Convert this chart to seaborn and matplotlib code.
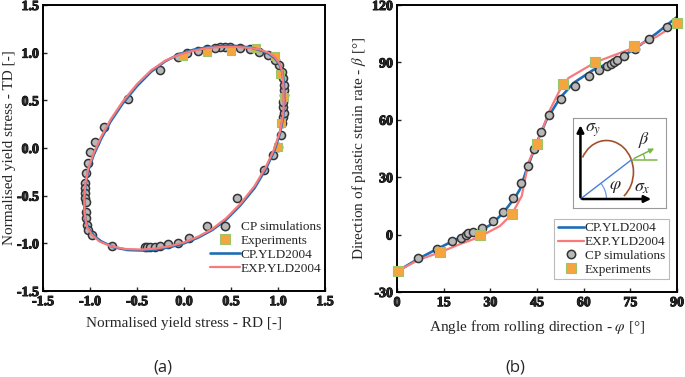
import numpy as np
import pandas as pd
import seaborn as sns
import matplotlib.pyplot as plt
import matplotlib.patheffects as pe
from matplotlib.patches import Arc
from matplotlib.lines import Line2D

# ---- panel (a): yield locus, normalised stresses ----
cp_sim_rd = [-0.255, -0.592, -0.851, -0.947, -1.0, -1.018, -1.043, -1.053, -1.055, -1.053,
             -1.050, -1.045, -1.043, -1.043, -1.029, -1.018, -0.982, -0.763, -0.415, -0.390,
             -0.362, -0.310, -0.255, -0.167, -0.061, 0.056, 0.241, 0.567, 0.851, 0.950,
             0.995, 1.029, 1.039, 1.056, 1.064, 1.056, 1.056, 1.064, 1.064, 1.064,
             1.056, 1.039, 1.014, 0.968, 0.897, 0.800, 0.702, 0.596, 0.489, 0.436,
             0.383, 0.330, 0.241, 0.152, 0.029, -0.060]
cp_sim_td = [0.818, 0.511, 0.224, 0.066, -0.045, -0.154, -0.266, -0.364, -0.42, -0.47,
             -0.52, -0.57, -0.668, -0.738, -0.808, -0.86, -0.913, -1.028, -1.039, -1.042,
             -1.039, -1.035, -1.028, -1.007, -0.993, -0.941, -0.818, -0.528, -0.231, -0.073,
             0.010, 0.136, 0.259, 0.322, 0.364, 0.427, 0.486, 0.556, 0.608, 0.660,
             0.730, 0.800, 0.871, 0.923, 0.975, 1.010, 1.035, 1.046, 1.060, 1.060,
             1.056, 1.049, 1.038, 1.021, 0.993, 0.951]

exp_rd = [-0.01, 0.24, 0.50, 0.77, 0.97, 1.02, 1.06, 1.03, 1.00]
exp_td = [0.97, 1.01, 1.02, 1.05, 0.97, 0.78, 0.54, 0.26, 0.01]

cp_yld_rd = [1.065, 1.065, 1.06, 1.045, 1.02, 0.97, 0.90, 0.80, 0.70, 0.55, 0.40, 0.25, 0.10,
             -0.05, -0.20, -0.35, -0.50, -0.65, -0.78, -0.88, -0.96, -1.02, -1.05, -1.06,
             -1.06, -1.05, -1.02, -0.96, -0.88, -0.75, -0.60, -0.45, -0.30, -0.15, 0.0,
             0.15, 0.30, 0.45, 0.60, 0.75, 0.87, 0.96, 1.02, 1.05, 1.065, 1.065]
cp_yld_td = [0.50, 0.60, 0.70, 0.80, 0.87, 0.94, 0.99, 1.03, 1.055, 1.07, 1.07, 1.055, 1.03,
             0.985, 0.91, 0.80, 0.65, 0.47, 0.28, 0.10, -0.07, -0.24, -0.40, -0.55,
             -0.65, -0.75, -0.84, -0.92, -0.98, -1.04, -1.07, -1.075, -1.065, -1.04, -1.0,
             -0.94, -0.86, -0.75, -0.60, -0.42, -0.22, -0.03, 0.15, 0.30, 0.42, 0.50]

exp_yld_rd = [1.06, 1.06, 1.055, 1.045, 1.02, 0.97, 0.90, 0.80, 0.70, 0.55, 0.40, 0.25, 0.10,
              -0.05, -0.20, -0.35, -0.50, -0.65, -0.78, -0.88, -0.96, -1.02, -1.05, -1.06,
              -1.06, -1.05, -1.03, -0.98, -0.90, -0.78, -0.62, -0.45, -0.30, -0.15, 0.0,
              0.15, 0.30, 0.45, 0.60, 0.75, 0.87, 0.96, 1.02, 1.05, 1.06, 1.06]
exp_yld_td = [0.50, 0.60, 0.70, 0.80, 0.88, 0.95, 1.0, 1.035, 1.05, 1.06, 1.06, 1.05, 1.02,
              0.98, 0.915, 0.815, 0.67, 0.49, 0.30, 0.12, -0.05, -0.22, -0.38, -0.52,
              -0.64, -0.74, -0.83, -0.91, -0.98, -1.03, -1.06, -1.065, -1.055, -1.03, -0.99,
              -0.93, -0.85, -0.735, -0.585, -0.40, -0.20, -0.01, 0.17, 0.32, 0.42, 0.50]

# ---- panel (b): direction of plastic strain rate ----
cp_sim_phi = [0.4, 6.9, 12.8, 17.6, 20.5, 22.2, 22.9, 24.5, 27.2, 30.8, 34.2, 37.2, 39.9,
              42.0, 44.0, 46.2, 49.0, 52.6, 57.2, 61.6, 65.0, 67.4, 68.8, 69.6, 70.8,
              73.1, 76.4, 81.0, 86.8]
cp_sim_beta = [-19.2, -12.3, -7.6, -3.6, -1.9, -0.3, 0.6, 1.6, 3.5, 7.1, 12.0, 19.0, 27.0,
               36.1, 44.8, 53.7, 62.6, 70.9, 77.5, 82.7, 86.1, 88.2, 89.4, 90.2, 91.2,
               93.4, 97.1, 102.1, 108.7]

exp_phi = [0.3, 13.8, 26.7, 36.9, 44.9, 53.4, 63.8, 76.1, 90.0]
exp_beta = [-19.0, -9.0, -0.3, 10.6, 47.6, 78.9, 90.1, 98.6, 110.5]

cp_line_phi = [0.4, 6.9, 12.8, 20.2, 26.7, 30.5, 34.2, 37.9, 39.5, 41.7, 44.9, 48.1,
               52.4, 56.7, 63.1, 70.6, 76.0, 83.5, 89.9]
cp_line_beta = [-18.9, -12.6, -7.6, -1.5, 2.0, 5.5, 11.5, 19.3, 23.6, 34.1, 48.0, 60.1,
                71.4, 79.2, 86.1, 91.4, 96.6, 105.3, 113.6]

exp_line_phi = [0.4, 6.9, 13.8, 20.2, 26.1, 33.1, 36.9, 40.1, 42.2, 44.9, 49.2, 52.4,
                55.1, 63.8, 74.9, 83.5, 90.4]
exp_line_beta = [-18.9, -13.2, -9.3, -5.0, -1.5, 4.5, 10.6, 20.2, 37.5, 47.6, 65.3, 75.7,
                 81.8, 90.1, 96.9, 103.5, 110.8]

ticks_a = [-1.5, -1.0, -0.5, 0.0, 0.5, 1.0, 1.5]
ticks_a_lab = ['-1.5', '-1.0', '-0.5', '0.0', '0.5', '1.0', '1.5']
ticks_phi = [0, 15, 30, 45, 60, 75, 90]
ticks_beta = [-30, 0, 30, 60, 90, 120]

BLUE = '#1f6db5'
RED = '#f77b7b'
GREY_FACE = '#b8b8b8'
GREY_EDGE = '#333333'
ORANGE = '#f6a53e'
GREEN_EDGE = '#9cc46a'

sns.set_style('ticks')
plt.rcParams['font.family'] = ['Liberation Serif', 'DejaVu Serif']
plt.rcParams['mathtext.fontset'] = 'stix'
plt.rcParams['xtick.direction'] = 'in'
plt.rcParams['ytick.direction'] = 'in'
plt.rcParams['axes.linewidth'] = 1.4
plt.rcParams['axes.edgecolor'] = 'black'

fig = plt.figure(figsize=(6.85, 3.77), dpi=100)
ax1 = fig.add_axes([43 / 685, 1 - 291 / 377, 282 / 685, 286 / 377])
ax2 = fig.add_axes([397 / 685, 1 - 292 / 377, 280 / 685, 287 / 377])

# panel (a)
sns.scatterplot(x=cp_sim_rd, y=cp_sim_td, ax=ax1, marker='o', s=34, color=GREY_FACE,
                edgecolor=GREY_EDGE, linewidth=1.1, zorder=2)
sns.scatterplot(x=exp_rd, y=exp_td, ax=ax1, marker='s', s=40, color=ORANGE,
                edgecolor=GREEN_EDGE, linewidth=0.8, zorder=2)
df_cp = pd.DataFrame({'rd': cp_yld_rd, 'td': cp_yld_td})
df_exp = pd.DataFrame({'rd': exp_yld_rd, 'td': exp_yld_td})
sns.lineplot(data=df_cp, x='rd', y='td', sort=False, estimator=None, ax=ax1,
             color=BLUE, linewidth=1.9, zorder=3)
sns.lineplot(data=df_exp, x='rd', y='td', sort=False, estimator=None, ax=ax1,
             color=RED, linewidth=1.6, zorder=4)
ax1.set_xlim(-1.5, 1.5)
ax1.set_ylim(-1.5, 1.5)
ax1.set_xticks(ticks_a, labels=ticks_a_lab, fontweight='bold', fontsize=10)
ax1.set_yticks(ticks_a, labels=ticks_a_lab, fontweight='bold', fontsize=10)
ax1.set_xlabel('Normalised yield stress - RD [-]', fontsize=11, labelpad=6)
ax1.set_ylabel('Normalised yield stress - TD [-]', fontsize=11, labelpad=1)

h_circ = Line2D([], [], marker='o', ls='', ms=6, mfc=GREY_FACE, mec=GREY_EDGE, mew=1.1)
h_sq = Line2D([], [], marker='s', ls='', ms=6.5, mfc=ORANGE, mec=GREEN_EDGE, mew=0.8)
h_blue = Line2D([], [], color=BLUE, lw=1.9)
h_red = Line2D([], [], color=RED, lw=1.6)

ax1.legend([h_circ, h_sq, h_blue, h_red],
           ['CP simulations', 'Experiments', 'CP.YLD2004', 'EXP.YLD2004'],
           loc='lower right', bbox_to_anchor=(1.02, 0.025), frameon=False, fontsize=9.5,
           handlelength=2.3, handletextpad=0.05, labelspacing=0.12, borderpad=0.2)

# panel (b)
sns.lineplot(x=cp_line_phi, y=cp_line_beta, ax=ax2, sort=False, estimator=None,
             color=BLUE, linewidth=1.9, zorder=2)
sns.lineplot(x=exp_line_phi, y=exp_line_beta, ax=ax2, sort=False, estimator=None,
             color=RED, linewidth=1.6, zorder=2)
sns.scatterplot(x=cp_sim_phi, y=cp_sim_beta, ax=ax2, marker='o', s=34, color=GREY_FACE,
                edgecolor=GREY_EDGE, linewidth=1.1, zorder=3, clip_on=False)
sns.scatterplot(x=exp_phi, y=exp_beta, ax=ax2, marker='s', s=48, color=ORANGE,
                edgecolor=GREEN_EDGE, linewidth=0.8, zorder=4, clip_on=False)
ax2.set_xlim(0, 90)
ax2.set_ylim(-30, 120)
ax2.set_xticks(ticks_phi, labels=[str(t) for t in ticks_phi], fontweight='bold', fontsize=10)
ax2.set_yticks(ticks_beta, labels=[str(t) for t in ticks_beta], fontweight='bold', fontsize=10)
ax2.set_xlabel(r'Angle from rolling direction - $\varphi$ [°]', fontsize=11, labelpad=6)
ax2.set_ylabel(r'Direction of plastic strain rate - $\beta$ [°]', fontsize=11, labelpad=3)

h_sq2 = Line2D([], [], marker='s', ls='', ms=7, mfc=ORANGE, mec=GREEN_EDGE, mew=0.8)
leg2 = ax2.legend([h_blue, h_red, h_circ, h_sq2],
                  ['CP.YLD2004', 'EXP.YLD2004', 'CP simulations', 'Experiments'],
                  loc='lower right', bbox_to_anchor=(0.97, 0.045), frameon=True,
                  fancybox=False, fontsize=9.5, handlelength=2.0, handletextpad=0.05,
                  labelspacing=0.12, borderpad=0.25, borderaxespad=0.0)
leg2.get_frame().set_edgecolor('#aaaaaa')
leg2.get_frame().set_linewidth(0.8)

# heavier tick labels, as in the original figure
bold_fx = [pe.withStroke(linewidth=0.7, foreground='black')]
for ax in (ax1, ax2):
    ax.tick_params(axis='both', which='both', length=3, width=1.0, pad=3,
                   top=False, right=False)
    for lab in ax.get_xticklabels() + ax.get_yticklabels():
        lab.set_path_effects(bold_fx)
    for sp in ax.spines.values():
        sp.set_visible(True)
        sp.set_linewidth(1.4)

# inset sketch of the stress angles
ins = fig.add_axes([573 / 685, 1 - 208 / 377, 93 / 685, 90 / 377])
ins.set_xlim(0, 1)
ins.set_ylim(0, 1)
ins.set_xticks([])
ins.set_yticks([])
for sp in ins.spines.values():
    sp.set_edgecolor('#9a9a9a')
    sp.set_linewidth(0.8)
ox, oy = 0.08, 0.10
ins.annotate('', xy=(0.87, oy), xytext=(ox - 0.01, oy),
             arrowprops=dict(arrowstyle='-|>', color='black', lw=1.8, mutation_scale=10))
ins.annotate('', xy=(ox, 0.95), xytext=(ox, oy - 0.01),
             arrowprops=dict(arrowstyle='-|>', color='black', lw=1.8, mutation_scale=10))
ins.add_patch(Arc((0.36, 0.40), 0.58, 0.70, theta1=-55, theta2=148, color='#a0522d', lw=1.2))
ins.plot([ox, 0.63], [oy, 0.537], color='#4a7fd4', lw=1.0)
ins.plot([0.63, 0.90], [0.537, 0.537], color='#7ab648', lw=1.1)
ins.annotate('', xy=(0.90, 0.675), xytext=(0.63, 0.537),
             arrowprops=dict(arrowstyle='-|>', color='#7ab648', lw=1.1, mutation_scale=7))
ins.add_patch(Arc((ox, oy), 0.56, 0.56, theta1=0, theta2=38, color='#6f9be0', lw=0.9))
ins.add_patch(Arc((0.63, 0.537), 0.28, 0.28, theta1=0, theta2=27, color='#7ab648', lw=0.9))
ins.text(0.13, 0.86, r'$\sigma_y$', fontsize=13, va='center')
ins.text(0.66, 0.23, r'$\sigma_x$', fontsize=13, va='center')
ins.text(0.39, 0.24, r'$\varphi$', fontsize=13, va='center')
ins.text(0.70, 0.76, r'$\beta$', fontsize=13, va='center')

fig.text(163 / 685, 1 - 368 / 377, '(a)', fontsize=12, family='Open Sans', ha='center', va='center')
fig.text(515 / 685, 1 - 368 / 377, '(b)', fontsize=12, family='Open Sans', ha='center', va='center')

fig.savefig('out.png', dpi=100)
